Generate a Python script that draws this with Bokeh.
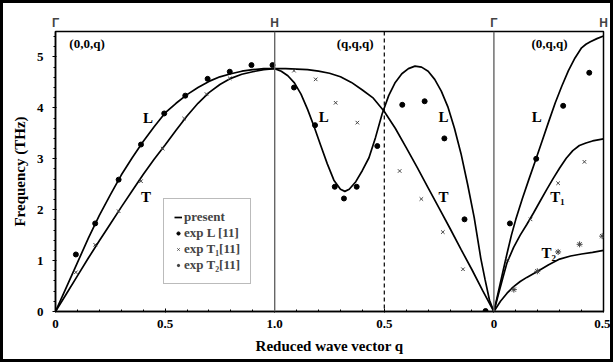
from bokeh.plotting import figure
from bokeh.models import FixedTicker, LinearAxis, Span, Label, Legend, LegendItem, Range1d
from bokeh.embed import file_html
from bokeh.resources import INLINE

# ---- x is a continuous path coordinate: 0=Gamma, 1=H, 2=Gamma, 2.5=end of (0,q,q)
tick_pos = [0, 0.5, 1, 1.5, 2, 2.5]
tick_labels = ["0", "0.5", "1.0", "0.5", "0", "0.5"]
minor_pos = [0.1, 0.2, 0.3, 0.4, 0.6, 0.7, 0.8, 0.9, 1.1, 1.2, 1.3, 1.4,
             1.6, 1.7, 1.8, 1.9, 2.1, 2.2, 2.3, 2.4]
sym_pos = [0, 1, 2, 2.5]
sym_labels = ["Γ", "H", "Γ", "H"]

# ---- calculated ("present") branches
# (0,0,q) L
l1_s = [0, 0.05, 0.1, 0.15, 0.2, 0.25, 0.3, 0.35, 0.4, 0.45, 0.5, 0.55, 0.6,
        0.65, 0.7, 0.75, 0.8, 0.85, 0.9, 0.95, 1.0]
l1_f = [0, 0.48, 0.96, 1.44, 1.89, 2.29, 2.68, 3.02, 3.34, 3.63, 3.90, 4.09, 4.26,
        4.40, 4.52, 4.61, 4.67, 4.72, 4.75, 4.77, 4.77]
# (0,0,q) T
t1_s = [0, 0.05, 0.1, 0.15, 0.2, 0.25, 0.3, 0.35, 0.4, 0.45, 0.5, 0.55, 0.6,
        0.65, 0.7, 0.75, 0.8, 0.85, 0.9, 0.95, 1.0]
t1_f = [0, 0.35, 0.70, 1.05, 1.39, 1.72, 2.05, 2.37, 2.69, 2.99, 3.27, 3.56, 3.84,
        4.09, 4.30, 4.46, 4.58, 4.66, 4.71, 4.75, 4.77]
# (q,q,q) L  (x from 1 = H to 2 = Gamma)
l2_s = [1.0, 1.03, 1.06, 1.09, 1.12, 1.15, 1.18, 1.21, 1.24, 1.27, 1.30, 1.32, 1.34,
        1.37, 1.40, 1.43, 1.46, 1.49, 1.52, 1.55, 1.58, 1.61, 1.64, 1.67, 1.70,
        1.73, 1.76, 1.79, 1.82, 1.85, 1.88, 1.91, 1.94, 1.96, 1.98, 2.0]
l2_f = [4.77, 4.72, 4.63, 4.49, 4.27, 3.97, 3.63, 3.26, 2.90, 2.58, 2.40, 2.36, 2.40,
        2.55, 2.77, 3.02, 3.42, 3.88, 4.24, 4.50, 4.67, 4.77, 4.82, 4.80, 4.72,
        4.56, 4.33, 4.02, 3.60, 3.10, 2.50, 1.85, 1.05, 0.62, 0.22, 0]
# (q,q,q) T
t2_s = [1.0, 1.05, 1.1, 1.15, 1.2, 1.25, 1.3, 1.35, 1.4, 1.45, 1.5, 1.55, 1.6,
        1.65, 1.7, 1.75, 1.8, 1.85, 1.9, 1.95, 2.0]
t2_f = [4.77, 4.77, 4.76, 4.75, 4.72, 4.68, 4.61, 4.50, 4.35, 4.19, 3.93, 3.60, 3.22,
        2.83, 2.43, 2.03, 1.63, 1.22, 0.82, 0.40, 0]
# (0,q,q) L
l3_s = [2.0, 2.02, 2.04, 2.06, 2.08, 2.10, 2.13, 2.16, 2.19, 2.22, 2.25, 2.28, 2.31,
        2.34, 2.37, 2.40, 2.42, 2.44, 2.47, 2.5]
l3_f = [0, 0.38, 0.76, 1.14, 1.50, 1.81, 2.22, 2.60, 2.97, 3.35, 3.73, 4.10, 4.43,
        4.73, 4.98, 5.18, 5.25, 5.30, 5.36, 5.41]
# (0,q,q) T1
t31_s = [2.0, 2.02, 2.04, 2.06, 2.09, 2.12, 2.15, 2.18, 2.21, 2.24, 2.27, 2.30, 2.33,
         2.36, 2.39, 2.42, 2.45, 2.5]
t31_f = [0, 0.33, 0.65, 0.96, 1.26, 1.50, 1.71, 1.93, 2.16, 2.39, 2.61, 2.82, 3.01,
         3.16, 3.26, 3.31, 3.35, 3.39]
# (0,q,q) T2
t32_s = [2.0, 2.03, 2.06, 2.09, 2.12, 2.15, 2.2, 2.25, 2.3, 2.35, 2.4, 2.45, 2.5]
t32_f = [0, 0.20, 0.36, 0.49, 0.59, 0.67, 0.79, 0.92, 1.03, 1.09, 1.13, 1.16, 1.20]

# ---- experimental points [11]
expL_s = [0.093, 0.181, 0.288, 0.39, 0.496, 0.592, 0.694, 0.795, 0.894, 0.99,
          1.088, 1.184, 1.274, 1.316, 1.374, 1.468, 1.582, 1.684, 1.774, 1.866, 1.962,
          2.073, 2.193, 2.316, 2.435]
expL_f = [1.12, 1.73, 2.59, 3.28, 3.89, 4.24, 4.57, 4.71, 4.84, 4.84,
          4.40, 3.66, 2.45, 2.22, 2.45, 3.25, 4.06, 4.13, 3.40, 1.81, 0.01,
          1.73, 3.00, 4.04, 4.69]
expT1_s = [0.093, 0.181, 0.288, 0.39, 0.489, 0.587, 0.689, 0.795,
           1.088, 1.187, 1.278, 1.377, 1.570, 1.669, 1.767, 1.859,
           2.061, 2.167, 2.293, 2.413]
expT1_f = [0.77, 1.31, 1.97, 2.56, 3.20, 3.79, 4.27, 4.58,
           4.73, 4.56, 4.10, 3.71, 2.76, 2.21, 1.56, 0.83,
           1.02, 1.81, 2.52, 2.94]
expT2_s = [2.091, 2.198, 2.293, 2.391, 2.494]
expT2_f = [0.43, 0.79, 1.17, 1.32, 1.48]

SERIF = "Liberation Serif"

p = figure(width=613, height=362, x_range=Range1d(0, 2.5), y_range=Range1d(0, 5.5),
           output_backend="svg", toolbar_location=None,
           min_border_left=52, min_border_right=13, min_border_top=28, min_border_bottom=54)
p.styles = {"border": "3px solid black"}
p.grid.visible = False
p.outline_line_color = "black"
p.outline_line_width = 1.5
p.background_fill_color = "white"
p.border_fill_color = "white"
p.border_fill_alpha = 0

# x axis
xa = p.xaxis[0]
xa.ticker = FixedTicker(ticks=tick_pos, minor_ticks=minor_pos)
xa.major_label_overrides = {k: v for k, v in zip(tick_pos, tick_labels)}
xa.axis_label = "Reduced wave vector q"
# y axis
ya = p.yaxis[0]
ya.ticker = FixedTicker(ticks=[0, 1, 2, 3, 4, 5],
                        minor_ticks=[0.2 * i for i in range(1, 28) if i % 5])
ya.axis_label = "Frequency (THz)"
for ax in (xa, ya):
    ax.axis_line_width = 1.5
    ax.axis_line_color = "black"
    ax.major_label_text_font = SERIF
    ax.major_label_text_font_style = "bold"
    ax.major_label_text_font_size = "13px"
    ax.major_label_text_color = "black"
    ax.axis_label_text_font = SERIF
    ax.axis_label_text_font_style = "bold"
    ax.axis_label_text_font_size = "15px"
    ax.axis_label_text_color = "black"
    ax.major_tick_line_color = "black"
    ax.minor_tick_line_color = "black"
xa.major_tick_in = 3
xa.major_tick_out = 1
xa.minor_tick_in = 2
xa.minor_tick_out = 0
xa.major_label_standoff = 7
xa.axis_label_standoff = 7
ya.major_tick_in = 1
ya.major_tick_out = 3
ya.minor_tick_in = 0
ya.minor_tick_out = 2
ya.major_label_standoff = 9
ya.axis_label_standoff = 6

top = LinearAxis(ticker=FixedTicker(ticks=sym_pos, minor_ticks=[]))
top.major_label_overrides = {k: v for k, v in zip(sym_pos, sym_labels)}
top.axis_line_color = None
top.major_tick_line_color = None
top.minor_tick_line_color = None
top.major_tick_in = 0
top.major_tick_out = 0
top.minor_tick_in = 0
top.minor_tick_out = 0
top.major_label_text_font = "Liberation Sans"
top.major_label_text_font_style = "bold"
top.major_label_text_font_size = "12px"
top.major_label_standoff = 2
p.add_layout(top, "above")

# symmetry lines
p.add_layout(Span(location=1, dimension="height", line_color="#666666", line_width=1.4))
p.add_layout(Span(location=2, dimension="height", line_color="#666666", line_width=1.4))
p.add_layout(Span(location=1.5, dimension="height", line_color="black", line_width=1.2,
                  line_dash="4 3"))

lw = 1.7
r_present = p.line(l1_s, l1_f, line_color="black", line_width=lw)
for s_, f_ in [(t1_s, t1_f), (l2_s, l2_f), (t2_s, t2_f), (l3_s, l3_f),
               (t31_s, t31_f), (t32_s, t32_f)]:
    p.line(s_, f_, line_color="black", line_width=lw)

r_L = p.scatter(expL_s, expL_f, marker="circle", size=5, fill_color="black", line_color="black")
r_T1 = p.scatter(expT1_s, expT1_f, marker="x", size=5, line_color="#444444", line_width=1)
r_T2 = p.scatter(expT2_s, expT2_f, marker="asterisk", size=6, line_color="#444444", line_width=1)

# annotations
def lab(x, y, t, size="15px"):
    p.add_layout(Label(x=x, y=y, text=t, text_font=SERIF, text_font_style="bold",
                       text_font_size=size, text_align="center", text_baseline="middle",
                       text_color="black"))

lab(0.144, 5.26, "(0,0,q)", "13px")
lab(1.367, 5.26, "(q,q,q)", "13px")
lab(2.254, 5.26, "(0,q,q)", "13px")
lab(0.422, 3.80, "L")
lab(0.413, 2.24, "T")
lab(1.224, 3.82, "L")
lab(1.77, 3.82, "L")
lab(1.77, 2.24, "T")
lab(2.195, 3.82, "L")
lab(2.29, 2.24, "T\u2081")
lab(2.25, 1.15, "T\u2082")

legend = Legend(items=[LegendItem(label="present", renderers=[r_present]),
                       LegendItem(label="exp L [11]", renderers=[r_L]),
                       LegendItem(label="exp T\u2081[11]", renderers=[r_T1]),
                       LegendItem(label="exp T\u2082[11]", renderers=[r_T2])],
                location=(108, 27), orientation="vertical")
legend.label_text_font = SERIF
legend.label_text_font_style = "bold"
legend.label_text_font_size = "13px"
legend.label_height = 16
legend.glyph_height = 16
legend.glyph_width = 8
legend.label_standoff = 2
legend.spacing = 0
legend.padding = 10
legend.margin = 0
legend.border_line_color = "#777777"
legend.border_line_width = 1
legend.background_fill_color = "white"
legend.background_fill_alpha = 1
p.add_layout(legend)

open("out.html", "w").write(file_html(p, INLINE))
